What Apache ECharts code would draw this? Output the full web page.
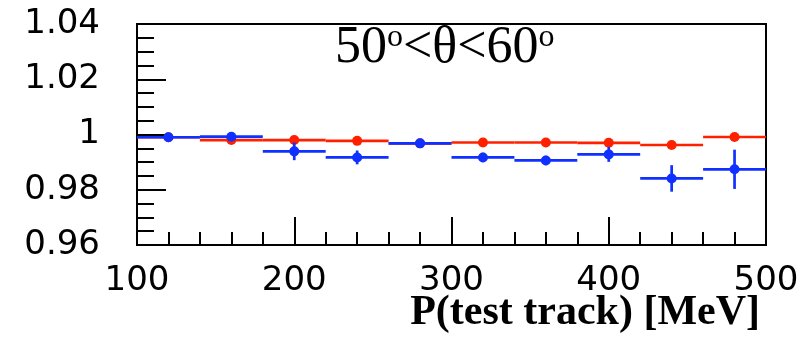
<!DOCTYPE html>
<html>
<head>
<meta charset="utf-8">
<script src="https://cdn.jsdelivr.net/npm/echarts@6/dist/echarts.min.js"></script>
<style>
  html, body { margin: 0; padding: 0; background: #fff; }
  #chart { width: 807px; height: 341px; }
</style>
</head>
<body>
<div id="chart"></div>
<script>
// Momentum bins (MeV): centres and half-width
const binCenters = [120, 160, 200, 240, 280, 320, 360, 400, 440, 480];
const binHalfWidth = 20;

// Red series: ratio and uncertainty per bin
const redValues = [0.9990, 0.9980, 0.9980, 0.9977, 0.9968, 0.9971, 0.9971, 0.9970, 0.9962, 0.9991];
const redErrors = [0.0008, 0.0008, 0.0008, 0.0008, 0.0008, 0.0008, 0.0008, 0.0008, 0.0009, 0.0010];

// Blue series: ratio and uncertainty per bin
const blueValues = [0.9990, 0.9992, 0.9939, 0.9917, 0.9968, 0.9917, 0.9906, 0.9928, 0.9841, 0.9874];
const blueErrors = [0.0012, 0.0014, 0.0032, 0.0025, 0.0012, 0.0017, 0.0017, 0.0027, 0.0048, 0.0071];

// Axis ranges and tick labels
const xMin = 100, xMax = 500, xStep = 100;
const yMin = 0.96, yMax = 1.04, yStep = 0.02;
const yTickLabels = ['0.96', '0.98', '1', '1.02', '1.04'];

const RED = '#ff2000';
const BLUE = '#1030ff';

function makeRows(values, errors) {
  return binCenters.map((c, i) => [c, values[i], errors[i]]);
}

// Horizontal bin bar, vertical error bar and a round marker per point
function errorBarRenderer(color) {
  return function (params, api) {
    const x = api.value(0), y = api.value(1), e = api.value(2);
    const pL = api.coord([x - binHalfWidth, y]);
    const pR = api.coord([x + binHalfWidth, y]);
    const pT = api.coord([x, y + e]);
    const pB = api.coord([x, y - e]);
    const pC = api.coord([x, y]);
    const stroke = { stroke: color, lineWidth: 2.7 };
    return {
      type: 'group',
      children: [
        { type: 'line', shape: { x1: pL[0], y1: pL[1], x2: pR[0], y2: pR[1] }, style: stroke },
        { type: 'line', shape: { x1: pT[0], y1: pT[1], x2: pB[0], y2: pB[1] }, style: stroke },
        { type: 'circle', shape: { cx: pC[0], cy: pC[1], r: 5 }, style: { fill: color } }
      ]
    };
  };
}

const chart = echarts.init(document.getElementById('chart'), null, { renderer: 'canvas' });

const labelFont = { fontFamily: 'DejaVu Sans', fontSize: 34, color: '#000' };

chart.setOption({
  animation: false,
  backgroundColor: '#fff',
  grid: {
    left: 137, right: 41, top: 24, bottom: 96,
    show: true, borderColor: '#000', borderWidth: 2, backgroundColor: 'transparent'
  },
  xAxis: {
    type: 'value',
    min: xMin, max: xMax, interval: xStep,
    axisLine: { show: true, onZero: false, lineStyle: { color: '#000', width: 2 } },
    axisTick: { show: true, inside: true, length: 28, lineStyle: { color: '#000', width: 2 } },
    minorTick: { show: true, splitNumber: 5, length: 13, lineStyle: { color: '#000', width: 2 } },
    splitLine: { show: false },
    axisLabel: Object.assign({ margin: 19 }, labelFont)
  },
  yAxis: {
    type: 'value',
    min: yMin, max: yMax, interval: yStep,
    axisLine: { show: true, onZero: false, lineStyle: { color: '#000', width: 2 } },
    axisTick: { show: true, inside: true, length: 29, lineStyle: { color: '#000', width: 2 } },
    minorTick: { show: true, splitNumber: 4, length: 17, lineStyle: { color: '#000', width: 2 } },
    splitLine: { show: false },
    axisLabel: Object.assign({
      margin: 37,
      formatter: function (v) {
        const idx = Math.round((v - yMin) / yStep);
        return yTickLabels[idx];
      }
    }, labelFont)
  },
  graphic: [
    {
      type: 'text',
      left: 335, top: 22,
      style: {
        text: '{n|50}{s|o}{n|<θ<60}{s|o}',
        rich: {
          n: { fontFamily: 'Liberation Serif', fontSize: 52, fill: '#000', verticalAlign: 'bottom' },
          s: { fontFamily: 'Liberation Serif', fontSize: 32, fill: '#000', verticalAlign: 'top' }
        }
      },
      z: 10
    },
    {
      type: 'text',
      right: 47, top: 292,
      style: {
        text: 'P(test track) [MeV]',
        fontFamily: 'Liberation Serif', fontWeight: 'bold', fontSize: 42, fill: '#000'
      },
      z: 10
    }
  ],
  series: [
    {
      name: 'red', type: 'custom',
      renderItem: errorBarRenderer(RED),
      data: makeRows(redValues, redErrors),
      encode: { x: 0, y: 1 },
      z: 3
    },
    {
      name: 'blue', type: 'custom',
      renderItem: errorBarRenderer(BLUE),
      data: makeRows(blueValues, blueErrors),
      encode: { x: 0, y: 1 },
      z: 4
    }
  ]
});
</script>
</body>
</html>
